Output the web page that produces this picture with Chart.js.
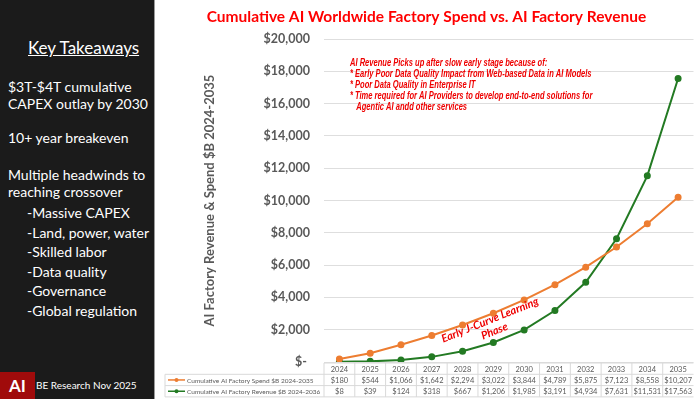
<!DOCTYPE html>
<html>
<head>
<meta charset="utf-8">
<script src="https://cdn.jsdelivr.net/npm/chart.js@4.4.1/dist/chart.umd.min.js"></script>
<style>
  html, body { margin: 0; padding: 0; background: #fff; }
  body { width: 698px; height: 399px; position: relative; overflow: hidden; font-family: Lato, "Open Sans", sans-serif; }
  #side { position: absolute; left: 0; top: 0; width: 154px; height: 399px; background: #1b1b1b; border-right: 1px solid #9a9a9a; color: #fff; }
  #side .t { position: absolute; white-space: nowrap; font-size: 14px; line-height: 17px; }
  #side .h { font-size: 17px; text-decoration: underline; left: 28px; top: 39px; }
  #logo { position: absolute; left: 0; top: 372px; width: 35px; height: 27px; background: #a00b0b; color: #fff; font-weight: bold; font-size: 17px; text-align: center; line-height: 27px; }
  #foot { position: absolute; left: 36px; top: 379px; font-size: 10px; color: #fff; white-space: nowrap; }
  #wrap { position: absolute; left: 155px; top: 0; width: 543px; height: 399px; }
</style>
</head>
<body>
<div id="side">
  <div class="t h">Key Takeaways</div>
  <div class="t" style="left:8px;top:78px">$3T-$4T cumulative<br>CAPEX outlay by 2030</div>
  <div class="t" style="left:8px;top:129px">10+ year breakeven</div>
  <div class="t" style="left:8px;top:166px">Multiple headwinds to<br>reaching crossover</div>
  <div class="t" style="left:27px;top:203px;line-height:19.5px">-Massive CAPEX<br>-Land, power, water<br>-Skilled labor<br>-Data quality<br>-Governance<br>-Global regulation</div>
  <div id="logo">AI</div>
  <div id="foot">BE Research Nov 2025</div>
</div>
<div id="wrap"><canvas id="chart"></canvas></div>
<script>
const years = ['2024', '2025', '2026', '2027', '2028', '2029', '2030', '2031', '2032', '2033', '2034', '2035'];
const spend = [180, 544, 1066, 1642, 2294, 3022, 3844, 4789, 5875, 7123, 8558, 10207];
const revenue = [8, 39, 124, 318, 667, 1206, 1985, 3191, 4934, 7631, 11531, 17563];
const seriesNames = ['Cumulative AI Factory Spend $B 2024-2035', 'Cumulative AI Factory Revenue $B 2024-2036'];
const seriesColors = ['#ed7d31', '#237a23'];
const noteLines = [
  'AI Revenue Picks up after slow early stage because of:',
  '* Early Poor Data Quality Impact from Web-based Data in AI Models',
  '* Poor Data Quality in Enterprise IT',
  '* Time required for AI Providers to develop end-to-end solutions for',
  '   Agentic AI andd other services'
];
const curveNote = ['Early J-Curve Learning', 'Phase'];

const money = v => v === 0 ? '$- ' : '$' + v.toLocaleString('en-US');

// data table under the plot + the red notes
const extras = {
  id: 'extras',
  afterDraw(chart) {
    const ctx = chart.ctx;
    const x = chart.scales.x;
    const area = chart.chartArea;
    const w = x.getPixelForValue(1) - x.getPixelForValue(0);
    const top = area.bottom + 1;
    const rh = 11.3;
    const legLeft = 10;
    ctx.save();
    ctx.strokeStyle = '#d9d9d9';
    ctx.lineWidth = 1;
    ctx.beginPath();
    ctx.moveTo(area.left, top); ctx.lineTo(area.right, top);
    for (let r = 1; r <= 3; r++) {
      ctx.moveTo(legLeft, top + r * rh); ctx.lineTo(area.right, top + r * rh);
    }
    ctx.moveTo(legLeft, top + rh); ctx.lineTo(legLeft, top + 3 * rh);
    years.forEach((y, i) => {
      const cx = x.getPixelForValue(i);
      ctx.moveTo(cx - w / 2, top); ctx.lineTo(cx - w / 2, top + 3 * rh);
    });
    ctx.stroke();

    ctx.font = '7.5px Lato, sans-serif';
    ctx.fillStyle = '#595959';
    ctx.textAlign = 'center';
    ctx.textBaseline = 'middle';
    const rows = [years, spend.map(money), revenue.map(money)];
    rows.forEach((row, r) => {
      row.forEach((txt, i) => {
        ctx.fillText(txt, x.getPixelForValue(i), top + r * rh + rh / 2 + 0.5);
      });
    });
    // legend keys
    ctx.textAlign = 'left';
    ctx.font = '6.5px Lato, sans-serif';
    seriesNames.forEach((n, s) => {
      const yy = top + (s + 1) * rh + rh / 2;
      ctx.strokeStyle = seriesColors[s];
      ctx.fillStyle = seriesColors[s];
      ctx.lineWidth = 1.5;
      ctx.beginPath(); ctx.moveTo(13, yy); ctx.lineTo(30, yy); ctx.stroke();
      ctx.beginPath(); ctx.arc(21.5, yy, 2, 0, Math.PI * 2); ctx.fill();
      ctx.fillStyle = '#595959';
      ctx.fillText(n, 32, yy + 0.5, area.left - 34);
    });

    // notes (squeezed to look like a narrow font)
    ctx.fillStyle = '#ee0000';
    ctx.font = 'italic bold 10px "Liberation Sans", sans-serif';
    ctx.textBaseline = 'middle';
    noteLines.forEach((l, i) => {
      ctx.save();
      ctx.translate(195, 63 + i * 11);
      ctx.scale(0.755, 1);
      ctx.fillText(l, 0, 0);
      ctx.restore();
    });

    ctx.font = 'italic bold 11px Lato, sans-serif';
    ctx.textAlign = 'center';
    ctx.translate(335, 320);
    ctx.rotate(-22 * Math.PI / 180);
    curveNote.forEach((l, i) => ctx.fillText(l, 0, i * 12));
    ctx.restore();
  }
};

new Chart(document.getElementById('chart'), {
  type: 'line',
  data: {
    labels: years,
    datasets: [
      { label: seriesNames[0], data: spend, borderColor: seriesColors[0], backgroundColor: seriesColors[0], borderWidth: 2, pointRadius: 2.5, pointHoverRadius: 2.5 },
      { label: seriesNames[1], data: revenue, borderColor: seriesColors[1], backgroundColor: seriesColors[1], borderWidth: 2, pointRadius: 2.5, pointHoverRadius: 2.5 }
    ]
  },
  options: {
    responsive: true,
    maintainAspectRatio: false,
    animation: false,
    layout: { padding: 0 },
    plugins: {
      legend: { display: false },
      tooltip: { enabled: false },
      title: {
        display: true,
        text: 'Cumulative AI Worldwide Factory Spend vs. AI Factory Revenue',
        color: '#ff0000',
        font: { family: 'Lato', size: 15.5, weight: 'bold' },
        padding: { top: 8, bottom: 12.5 }
      }
    },
    scales: {
      x: {
        offset: true,
        grid: { display: false },
        border: { display: false },
        ticks: { display: false },
        afterFit: s => { s.height = 37; }
      },
      y: {
        min: 0,
        max: 20000,
        ticks: {
          stepSize: 2000,
          padding: 14,
          color: '#595959',
          font: { family: 'Lato', size: 12.5, weight: 'bold' },
          callback: v => money(v)
        },
        grid: { color: '#dedede', drawTicks: false },
        border: { display: false },
        title: {
          display: true,
          text: 'AI Factory Revenue & Spend $B 2024-2035',
          color: '#595959',
          font: { family: 'Lato', size: 13, weight: 'bold' },
          padding: { top: 47 }
        },
        afterFit: s => { s.width = 169; }
      }
    }
  },
  plugins: [extras]
});
</script>
</body>
</html>
